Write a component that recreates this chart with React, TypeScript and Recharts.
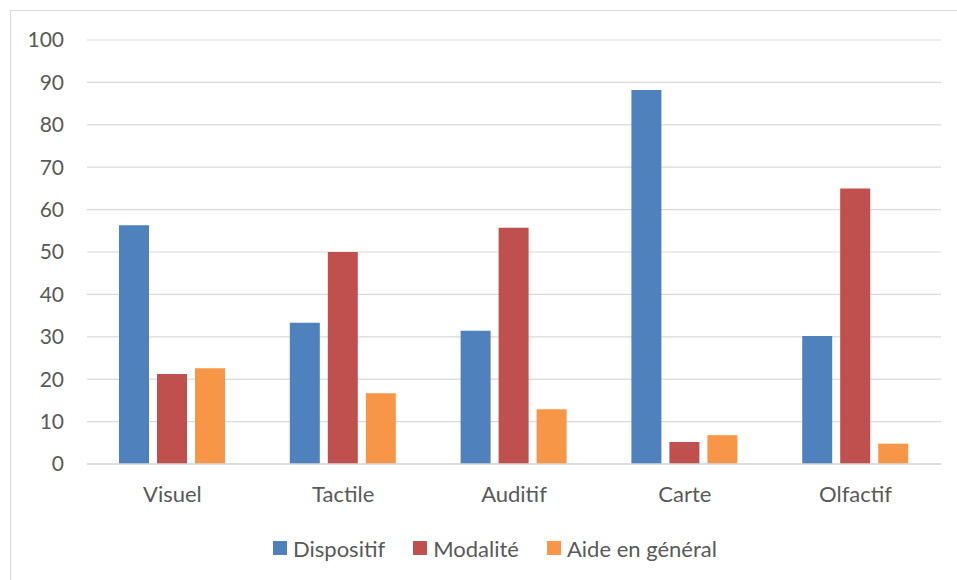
import React from "react";
import { BarChart, Bar, XAxis, YAxis, CartesianGrid } from "recharts";

const categories = ["Visuel", "Tactile", "Auditif", "Carte", "Olfactif"];
const dispositif = [56.3, 33.3, 31.4, 88.2, 30.2];
const modalite = [21.2, 50.0, 55.7, 5.2, 65.0];
const aide = [22.6, 16.7, 12.9, 6.8, 4.8];
const yTicks = [0, 10, 20, 30, 40, 50, 60, 70, 80, 90, 100];

const series = [
  { key: "dispositif", name: "Dispositif", color: "#4f81bd" },
  { key: "modalite", name: "Modalité", color: "#c0504d" },
  { key: "aide", name: "Aide en général", color: "#f79646" },
];

const FONT = "Lato, 'Open Sans', sans-serif";
const TEXT = "#595959";

const data = categories.map((name, i) => ({
  name,
  dispositif: dispositif[i],
  modalite: modalite[i],
  aide: aide[i],
}));

export default function App() {
  return (
    <div
      style={{
        position: "absolute",
        left: 0,
        top: 0,
        width: 957,
        height: 580,
        overflow: "hidden",
        background: "#fff",
        fontFamily: FONT,
      }}
    >
      <div
        style={{
          position: "absolute",
          left: 10,
          top: 10,
          width: 980,
          height: 620,
          border: "1.5px solid #d9d9d9",
        }}
      />
      <BarChart
        width={957}
        height={580}
        data={data}
        margin={{ top: 40, right: 16, bottom: 0, left: 0 }}
        barSize={30}
        barGap={8}
        style={{ position: "absolute", left: 0, top: 0 }}
      >
        <CartesianGrid vertical={false} stroke="#d9d9d9" strokeWidth={1.2} />
        <XAxis
          dataKey="name"
          height={116}
          tickSize={0}
          tickMargin={22}
          axisLine={{ stroke: "#d9d9d9", strokeWidth: 1.5 }}
          tickLine={false}
          tick={{ fill: TEXT, fontSize: 22, fontFamily: FONT }}
        />
        <YAxis
          width={87}
          domain={[0, 100]}
          ticks={yTicks}
          interval={0}
          tickSize={0}
          tickMargin={23}
          axisLine={false}
          tickLine={false}
          tick={{ fill: TEXT, fontSize: 21, fontFamily: FONT }}
        />
        {series.map((s) => (
          <Bar
            key={s.key}
            dataKey={s.key}
            name={s.name}
            fill={s.color}
            isAnimationActive={false}
          />
        ))}
      </BarChart>
      <div
        style={{
          position: "absolute",
          left: 273,
          top: 534,
          height: 28,
          display: "flex",
          alignItems: "center",
          gap: 28,
          fontSize: 22,
          color: TEXT,
          whiteSpace: "nowrap",
        }}
      >
        {series.map((s) => (
          <div key={s.key} style={{ display: "flex", alignItems: "center" }}>
            <span
              style={{
                display: "inline-block",
                width: 14,
                height: 14,
                background: s.color,
                marginRight: 6,
              }}
            />
            <span>{s.name}</span>
          </div>
        ))}
      </div>
    </div>
  );
}
